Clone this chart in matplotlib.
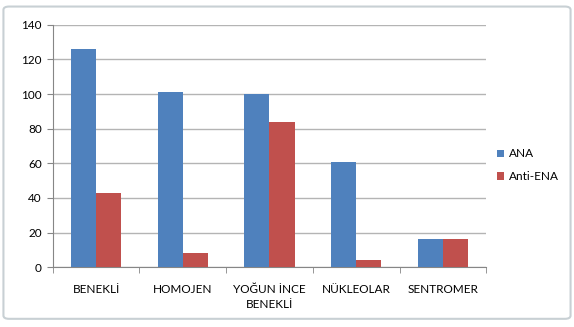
import numpy as np
import matplotlib.pyplot as plt
from matplotlib.patches import FancyBboxPatch

categories = ['BENEKLİ', 'HOMOJEN', 'YOĞUN İNCE\nBENEKLİ', 'NÜKLEOLAR', 'SENTROMER']
ana = [126, 101, 100, 61, 16]
anti_ena = [43, 8, 84, 4, 16]

plt.rcParams['font.family'] = ['Lato', 'DejaVu Sans']

fig = plt.figure(figsize=(5.74, 3.27), dpi=100)
ax = fig.add_axes([0.092, 0.183, 0.755, 0.741])

x = np.arange(len(categories))
w = 0.29
ax.bar(x - w / 2, ana, w, color='#4F81BD', label='ANA', zorder=3)
ax.bar(x + w / 2, anti_ena, w, color='#C0504D', label='Anti-ENA', zorder=3)

ax.set_xlim(-0.5, len(categories) - 0.5)
ax.set_ylim(0, 140)
ax.set_yticks(range(0, 141, 20))
ax.yaxis.grid(True, color='#B4B4B4', linewidth=1.0, zorder=0)
ax.set_xticks(x)
ax.set_xticklabels(categories, fontsize=8.5, linespacing=1.5)
ax.set_xticks(np.arange(-0.5, len(categories), 1), minor=True)
ax.tick_params(axis='x', which='major', length=0, pad=12)
ax.tick_params(axis='x', which='minor', length=4, color='#868686')
ax.tick_params(axis='y', length=4, color='#868686', labelsize=8.5, pad=4)

for s in ['top', 'right']:
    ax.spines[s].set_visible(False)
for s in ['left', 'bottom']:
    ax.spines[s].set_color('#868686')

ax.legend(loc='center left', bbox_to_anchor=(1.0, 0.42), frameon=False,
          fontsize=8.5, handlelength=0.6, handleheight=0.6, handletextpad=0.4,
          labelspacing=1.0)

fig.patches.append(FancyBboxPatch((0.006, 0.025), 0.988, 0.955,
                                  boxstyle='round,pad=0,rounding_size=0.01',
                                  transform=fig.transFigure, fill=False,
                                  edgecolor='#C8D0D4', linewidth=1.5))

fig.savefig('out.png', dpi=100)
